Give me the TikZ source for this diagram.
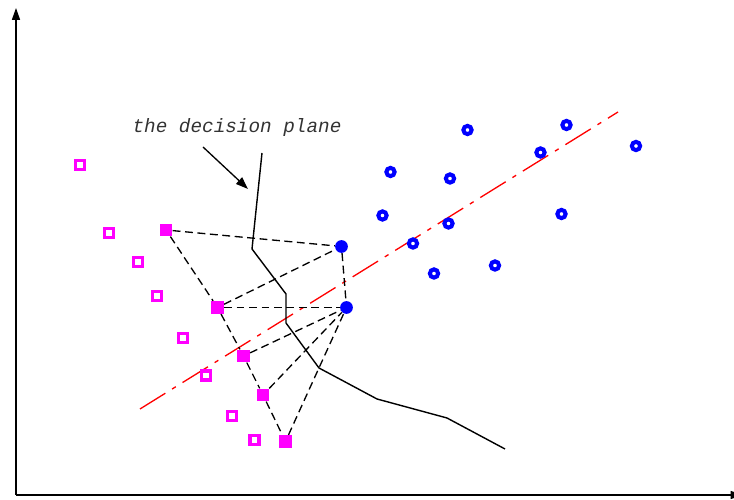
\documentclass[tikz,border=0pt]{standalone}
\usepackage{fontspec}
\usepackage{tikz}
\usetikzlibrary{arrows.meta}
\newfontfamily\planefont{Liberation Mono}
\definecolor{ptmagenta}{RGB}{255,0,255}
\definecolor{ptblue}{RGB}{0,0,255}
\definecolor{lnred}{RGB}{255,0,0}

\begin{document}
\begin{tikzpicture}[
    negpt/.style={draw=ptmagenta, line width=2.2pt, rectangle, inner sep=0pt, minimum size=0.18cm},
    negsv/.style={fill=ptmagenta, rectangle, inner sep=0pt, minimum size=0.25cm},
    pospt/.style={draw=ptblue, line width=2.3pt, circle, inner sep=0pt, minimum size=0.165cm},
    possv/.style={fill=ptblue, circle, inner sep=0pt, minimum size=0.255cm},
    svlink/.style={dashed, dash pattern=on 4.5pt off 2.6pt, line width=0.75pt},
  ]
			\useasboundingbox (0,0) rectangle (14.68,10);
%			axes
			\draw[line width=0.75pt, -{Triangle[length=6.8pt,width=4.6pt]}] (0.32,0.1) -- (0.32,9.84);
			\draw[line width=0.75pt, -{Triangle[length=6.8pt,width=4.6pt]}] (0.32,0.1) -- (14.85,0.1);
%			optimal separating line
			\draw[lnred, line width=0.75pt, dash pattern=on 17pt off 4.5pt on 2.5pt off 4.5pt] (2.8,1.82) -- (12.36,7.76);
%			decision plane
			\draw[line width=0.8pt] (5.24,6.94) -- (5.04,5.02) -- (5.72,4.12) -- (5.72,3.54) -- (6.38,2.64) -- (7.54,2.02) -- (8.94,1.64) -- (10.1,1.02);
			\node[font=\planefont\itshape\fontsize{11}{13}\selectfont, text=black!80] (label) at (4.74,7.44) {the decision plane};
			\coordinate (from) at (4.06,7.06);
			\coordinate (to) at (4.96,6.22);
			\draw[line width=0.75pt, -{Triangle[length=7pt,width=5pt]}] (from) -- (to);
%			class one
			\node[negpt] (n1) at (1.6,6.7) {};
			\node[negpt] (n2) at (2.18,5.34) {};
			\node[negpt] (n3) at (2.76,4.76) {};
			\node[negpt] (n4) at (3.14,4.08) {};
			\node[negpt] (n5) at (3.66,3.24) {};
			\node[negpt] (n6) at (4.12,2.49) {};
			\node[negpt] (n7) at (4.64,1.68) {};
			\node[negpt] (n8) at (5.09,1.2) {};
			\node[negsv] (s1) at (3.32,5.4) {};
			\node[negsv] (s2) at (4.35,3.85) {};
			\node[negsv] (s3) at (4.87,2.88) {};
			\node[negsv] (s4) at (5.26,2.1) {};
			\node[negsv] (s5) at (5.71,1.17) {};
%			class two
			\node[pospt] (p1) at (9.35,7.4) {};
			\node[pospt] (p2) at (11.33,7.5) {};
			\node[pospt] (p3) at (10.81,6.95) {};
			\node[pospt] (p4) at (12.72,7.08) {};
			\node[pospt] (p5) at (7.81,6.56) {};
			\node[pospt] (p6) at (9.0,6.43) {};
			\node[pospt] (p7) at (7.65,5.69) {};
			\node[pospt] (p8) at (8.97,5.53) {};
			\node[pospt] (p9) at (11.23,5.72) {};
			\node[pospt] (p10) at (8.26,5.13) {};
			\node[pospt] (p11) at (8.68,4.53) {};
			\node[pospt] (p12) at (9.9,4.69) {};
			\node[possv] (c1) at (6.83,5.07) {};
			\node[possv] (c2) at (6.93,3.85) {};
%			links between support vectors
			\draw[svlink] (s1) -- (c1);
			\draw[svlink] (s1) -- (s2);
			\draw[svlink] (s2) -- (c1);
			\draw[svlink] (s2) -- (c2);
			\draw[svlink] (c1) -- (c2);
			\draw[svlink] (s2) -- (s3);
			\draw[svlink] (s3) -- (c2);
			\draw[svlink] (s3) -- (s4);
			\draw[svlink] (s4) -- (c2);
			\draw[svlink] (s4) -- (s5);
			\draw[svlink] (s5) -- (c2);
		\end{tikzpicture}
\end{document}
